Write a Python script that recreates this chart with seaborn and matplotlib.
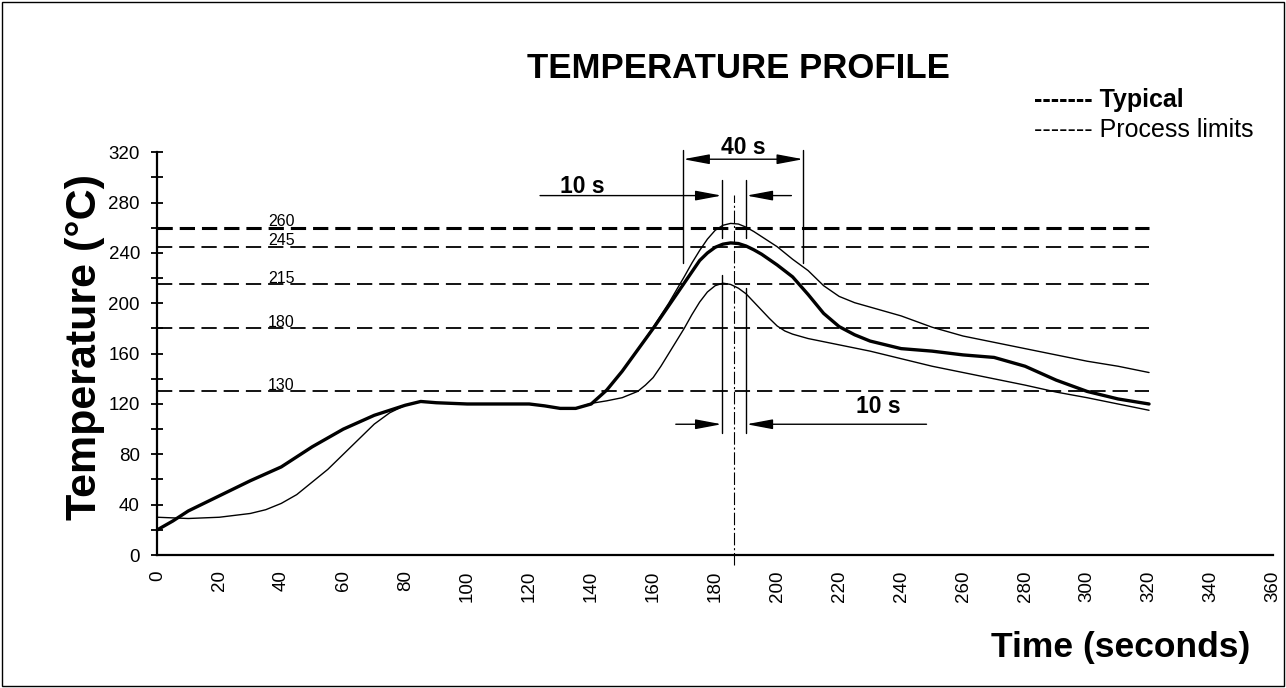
import numpy as np
import pandas as pd
import matplotlib
matplotlib.use("Agg")
import matplotlib.pyplot as plt
import seaborn as sns
from matplotlib.patches import Rectangle
from matplotlib import font_manager

# ---------------- data ----------------
typ_t = [0, 5, 10, 20, 30, 40, 50, 60, 70, 80, 85, 90, 100, 110, 120, 125, 130, 135,
         140, 145, 150, 155, 160, 165, 170, 175, 177.5, 180, 182.5, 185, 187.5, 190, 192.5,
         195, 200, 205, 210, 215, 220, 225, 230, 240, 250, 260, 270, 280, 290, 300, 310, 320]
typ_v = [20, 27, 35, 47, 59, 70, 86, 100, 111, 119, 122, 121, 120, 120, 120, 118.5, 116.5, 116.5,
         120, 131, 146, 163, 180, 198, 216, 234, 240, 244.5, 247, 248, 247.5, 245.5, 242.5,
         239, 230.5, 221, 207, 192, 181.5, 175, 170, 164, 162, 159, 157, 150, 139, 130, 124, 120]

up_t = [0, 5, 10, 20, 30, 40, 50, 60, 70, 80, 85, 90, 100, 110, 120, 125, 130, 135,
        140, 145, 150, 155, 160, 165, 170, 172.5, 175, 177.5, 180, 182.5, 185, 187.5, 190,
        192.5, 195, 200, 205, 210, 215, 220, 225, 230, 240, 250, 260, 270, 280, 290, 300, 310, 320]
up_v = [20, 27, 35, 47, 59, 70, 86, 100, 111, 119, 122, 121, 120, 120, 120, 118.5, 116.5, 116.5,
        120, 131, 146, 163, 181, 200, 221, 232, 242, 251, 258, 262, 263.5, 263, 260.5,
        257, 253, 245, 235, 226, 214, 205.5, 200.5, 197, 190, 181, 174, 169, 164, 159, 154, 150, 145]

low_t = [0, 5, 10, 20, 30, 35, 40, 45, 50, 55, 60, 65, 70, 75, 80, 85, 90, 100, 110,
         120, 125, 130, 135, 140, 145, 150, 155, 157.5, 160, 162.5, 165, 167.5, 170, 172.5,
         175, 177.5, 180, 182.5, 185, 187.5, 190, 192.5, 195, 197.5, 200, 202.5, 205, 210,
         220, 230, 240, 250, 260, 270, 280, 290, 300, 310, 320]
low_v = [30, 29.5, 29, 30, 33, 36, 41, 48, 58, 68, 80, 92, 104, 113, 119, 122, 121, 120, 120,
         120, 118.5, 116.5, 116.5, 120.5, 122.5, 125, 130, 135, 141, 150, 160, 170, 180, 191,
         201, 209, 214, 216, 215, 212, 207.5, 201, 194.5, 188, 182, 178, 175.5, 172,
         167, 162, 156, 150, 145, 140, 135, 129.5, 125, 120, 115]

ref_levels = [260, 245, 215, 180, 130]
ref_labels = ["260", "245", "215", "180", "130"]

x_ticks = list(range(0, 361, 20))
y_major = list(range(0, 321, 40))
y_minor = list(range(0, 321, 20))

title_text = "TEMPERATURE PROFILE"
xlabel_text = "Time (seconds)"
ylabel_text = "Temperature (°C)"
legend_typ = "------- Typical"
legend_lim = "------- Process limits"

# ---------------- style ----------------
sns.set_theme(style="white")
plt.rcParams["font.family"] = ["Liberation Sans", "DejaVu Sans"]
plt.rcParams["lines.scale_dashes"] = False

available = {f.name for f in font_manager.fontManager.ttflist}
has_narrow = "Liberation Sans Narrow" in available
narrow = ["Liberation Sans Narrow", "Liberation Sans", "DejaVu Sans"] if has_narrow \
    else ["Liberation Sans", "DejaVu Sans"]

fig = plt.figure(figsize=(12.86, 6.88), dpi=100)
ax = fig.add_axes([157.3 / 1286, 1 - 555 / 688, (1273 - 157.3) / 1286, (555 - 152.3) / 688])

df = pd.concat([
    pd.DataFrame({"t": typ_t, "v": typ_v, "s": "Typical"}),
    pd.DataFrame({"t": up_t, "v": up_v, "s": "Upper"}),
    pd.DataFrame({"t": low_t, "v": low_v, "s": "Lower"}),
])

# reference dashed lines
for lvl, lab in zip(ref_levels, ref_labels):
    lw = 2.2 if lvl == 260 else 1.3
    ax.plot([0, 320], [lvl, lvl], color="black", lw=lw, dashes=(11, 5), zorder=1)
    ax.text(40, lvl + 1.5, lab, fontsize=11.5, ha="center", va="baseline", color="black")

sns.lineplot(data=df[df.s == "Upper"], x="t", y="v", ax=ax, color="black", lw=1.0,
             sort=False, estimator=None, legend=False, zorder=3)
sns.lineplot(data=df[df.s == "Lower"], x="t", y="v", ax=ax, color="black", lw=1.0,
             sort=False, estimator=None, legend=False, zorder=3)
sns.lineplot(data=df[df.s == "Typical"], x="t", y="v", ax=ax, color="black", lw=2.4,
             sort=False, estimator=None, legend=False, zorder=4)

ax.set_xlim(0, 360)
ax.set_ylim(0, 320)
ax.set_xlabel("")
ax.set_ylabel("")
ax.set_xticks(x_ticks)
ax.set_xticklabels([str(v) for v in x_ticks], rotation=90, fontsize=13.5)
ax.set_yticks(y_major)
ax.set_yticklabels([str(v) for v in y_major], fontsize=13.5)
ax.set_yticks(y_minor, minor=True)
ax.yaxis.remove_overlapping_locs = False
ax.tick_params(axis="x", which="major", direction="inout", length=10, width=1.3,
               color="black", labelcolor="black", pad=6)
ax.tick_params(axis="y", which="major", direction="out", length=11, width=1.3,
               color="black", labelcolor="black", pad=1.5)
ax.tick_params(axis="y", which="minor", direction="inout", length=8, width=1.3,
               color="black", left=True)
for s in ["top", "right"]:
    ax.spines[s].set_visible(False)
for s in ["left", "bottom"]:
    ax.spines[s].set_color("black")
    ax.spines[s].set_linewidth(1.6)
ax.grid(False)
ax.set_facecolor("none")

# ---------------- annotations ----------------
kw = dict(color="black", lw=1.0, clip_on=False, zorder=5)
aprops = dict(lw=1.0, color="black", shrinkA=0, shrinkB=0, mutation_scale=20)
# center dash-dot line
ax.plot([186, 186], [-8, 286], color="black", lw=0.8, dashes=(9, 2, 1.5, 2), clip_on=False, zorder=5)
# 40 s
ax.plot([169.7, 169.7], [232, 322], **kw)
ax.plot([208.4, 208.4], [232, 322], **kw)
ax.annotate("", xy=(169.7, 314.5), xytext=(208.4, 314.5),
            arrowprops=dict(arrowstyle="<|-|>,head_length=0.8,head_width=0.15", **aprops),
            annotation_clip=False)
ax.text(189, 318.5, "40 s", fontsize=16.5, fontweight="bold", ha="center", va="baseline", color="black")
# top 10 s
ax.plot([182.1, 182.1], [252, 298], **kw)
ax.plot([190.1, 190.1], [252, 298], **kw)
ax.annotate("", xy=(182.1, 285.6), xytext=(123.5, 285.6),
            arrowprops=dict(arrowstyle="-|>,head_length=0.8,head_width=0.15", **aprops),
            annotation_clip=False)
ax.annotate("", xy=(190.1, 285.6), xytext=(204.6, 285.6),
            arrowprops=dict(arrowstyle="-|>,head_length=0.8,head_width=0.15", **aprops),
            annotation_clip=False)
ax.text(137, 287.5, "10 s", fontsize=16.5, fontweight="bold", ha="center", va="baseline", color="black")
# bottom 10 s
ax.plot([182.1, 182.1], [96.7, 222.6], **kw)
ax.plot([190.1, 190.1], [96.7, 212], **kw)
ax.annotate("", xy=(182.1, 103.9), xytext=(167.3, 103.9),
            arrowprops=dict(arrowstyle="-|>,head_length=0.8,head_width=0.15", **aprops),
            annotation_clip=False)
ax.annotate("", xy=(190.1, 103.9), xytext=(248.2, 103.9),
            arrowprops=dict(arrowstyle="-|>,head_length=0.8,head_width=0.15", **aprops),
            annotation_clip=False)
ax.text(232.8, 113, "10 s", fontsize=16.5, fontweight="bold", ha="center", va="baseline", color="black")

# ---------------- figure texts ----------------
fig.text(738 / 1286, 1 - 68 / 688, title_text, fontsize=31 if has_narrow else 25,
         fontweight="bold", family=narrow, ha="center", va="center", color="black")
fig.text(1034 / 1286, 1 - 100 / 688, legend_typ, fontsize=18, fontweight="bold",
         ha="left", va="center", color="black")
fig.text(1034 / 1286, 1 - 130 / 688, legend_lim, fontsize=18,
         ha="left", va="center", color="black")
fig.text(1250 / 1286, 1 - 648 / 688, xlabel_text, fontsize=31 if has_narrow else 25.5,
         fontweight="bold", family=narrow, ha="right", va="center", color="black")
fig.text(85 / 1286, 1 - 347 / 688, ylabel_text, fontsize=31, fontweight="bold",
         ha="center", va="center", rotation=90, color="black")

fig.patches.append(Rectangle((2 / 1286, 2 / 688), 1 - 4 / 1286, 1 - 4 / 688,
                             transform=fig.transFigure, fill=False, edgecolor="black", lw=1.0))

fig.savefig("out.png", dpi=100, facecolor="white")
